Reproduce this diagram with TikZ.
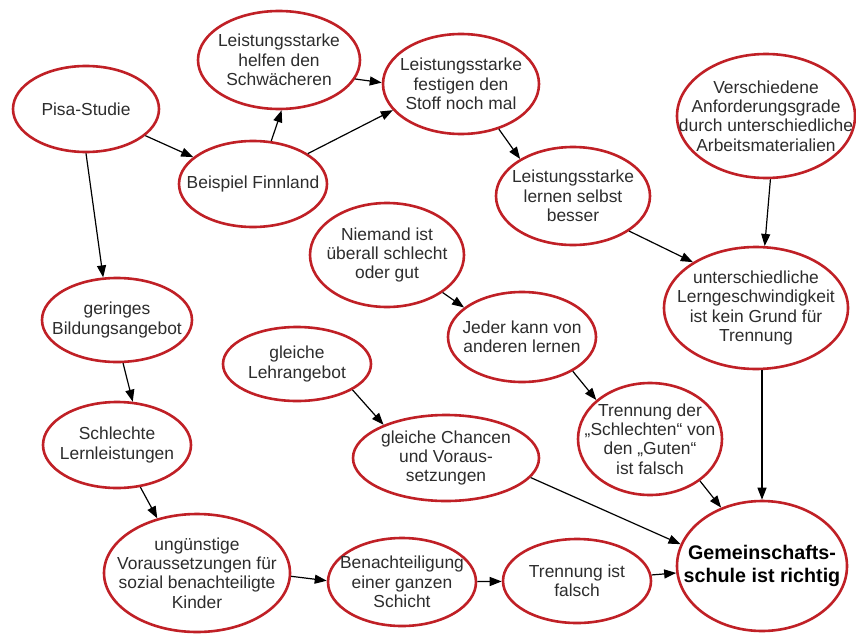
\documentclass[tikz,border=0pt]{standalone}
\usepackage{fontspec}
\setmainfont{Liberation Sans}
\usepackage{xcolor}
\usepackage{tikz}
\usetikzlibrary{shapes.geometric,arrows.meta}

\definecolor{ringred}{RGB}{192,32,38}
\definecolor{inkgray}{RGB}{45,45,45}

\begin{document}
\begin{tikzpicture}[x=1pt, y=-1pt,
  idea/.style  = {ellipse, draw=ringred, line width=2.6pt, inner sep=0pt,
                  fill=white},
  words/.style = {align=center, text=inkgray,
                  font=\fontsize{17.4}{19.4}\selectfont},
  goal/.style  = {align=center, text=black,
                  font=\bfseries\fontsize{19.7}{23.3}\selectfont},
  arr/.style   = {-{Triangle[length=12pt,width=9pt]}, line width=1.2pt}
]
\useasboundingbox[fill=white] (0,0) rectangle (856,634);

% ,  Finnland branch (top) ,
\node[idea, minimum width=146pt, minimum height=86pt, label={[words]center:Pisa-Studie}] (pisa) at (86,109) {};
\node[idea, minimum width=162pt, minimum height=98pt, label={[words]center:Leistungsstarke\\helfen den\\Schwächeren}] (helfen) at (279,60) {};
\node[idea, minimum width=148pt, minimum height=86pt, label={[words]center:Beispiel Finnland}] (finn) at (253,184) {};
\node[idea, minimum width=156pt, minimum height=100pt, label={[words]center:Leistungsstarke\\festigen den\\Stoff noch mal}] (festig) at (461,84) {};
\node[idea, minimum width=154pt, minimum height=98pt, label={[words]center:Leistungsstarke\\lernen selbst\\besser}] (selbst) at (573,196) {};

% ,  Right column ,
\node[idea, minimum width=178pt, minimum height=124pt, label={[words]center:Verschiedene\\Anforderungsgrade\\durch unterschiedliche\\Arbeitsmaterialien}] (anford) at (766,116) {};
\node[idea, minimum width=184pt, minimum height=122pt, label={[words]center:unterschiedliche\\Lerngeschwindigkeit\\ist kein Grund für\\Trennung}] (lerng) at (756,308) {};

% ,  Middle chain ,
\node[idea, minimum width=154pt, minimum height=104pt, label={[words]center:Niemand ist\\überall schlecht\\oder gut}] (niemand) at (387,255) {};
\node[idea, minimum width=148pt, minimum height=90pt, label={[words]center:Jeder kann von\\anderen lernen}] (jeder) at (522,337) {};
\node[idea, minimum width=144pt, minimum height=112pt, label={[words]center:Trennung der\\„Schlechten“ von\\den „Guten“\\ist falsch}] (trenngut) at (650,439) {};
\node[idea, minimum width=148pt, minimum height=74pt, label={[words]center:gleiche\\Lehrangebot}] (lehr) at (297,364) {};
\node[idea, minimum width=186pt, minimum height=86pt, label={[words]center:gleiche Chancen\\und Voraus-\\setzungen}] (chancen) at (446,458) {};

% ,  Left column and bottom row ,
\node[idea, minimum width=150pt, minimum height=84pt, label={[words]center:geringes\\Bildungsangebot}] (gering) at (117,320) {};
\node[idea, minimum width=148pt, minimum height=86pt, label={[words]center:Schlechte\\Lernleistungen}] (schlecht) at (117,445) {};
\node[idea, minimum width=186pt, minimum height=118pt, label={[words]center:ungünstige\\Voraussetzungen für\\sozial benachteiligte\\Kinder}] (unguen) at (197,573) {};
\node[idea, minimum width=148pt, minimum height=88pt, label={[words]center:Benachteiligung\\einer ganzen\\Schicht}] (benach) at (402,582) {};
\node[idea, minimum width=148pt, minimum height=84pt, label={[words]center:Trennung ist\\falsch}] (trennf) at (577,581) {};

% ,  Conclusion ,
\node[idea, minimum width=170pt, minimum height=130pt, label={[goal]center:Gemeinschafts-\\schule ist richtig}] (gemein) at (762,566) {};

% ,  Arrows: Finnland branch ,
\draw[arr] (pisa) -- (finn);
\draw[arr] (finn.67) -- (helfen.-87);
\draw[arr] (finn.29) -- (festig.201);
\draw[arr] (helfen.-14) -- (festig.179);
\draw[arr] (festig.-50) -- (selbst.145);
\draw[arr] (selbst.-32) -- (lerng.144);
\draw[arr] (anford.-86) -- (lerng.82);

% ,  Arrows: middle chain ,
\draw[arr] (niemand.-34) -- (jeder.153);
\draw[arr] (jeder.-34) -- (trenngut.144);
\draw[arr] (lehr.-25) -- (chancen.152);

% ,  Arrows: left column and bottom row ,
\draw[arr] (pisa.-90) -- (gering.108);
\draw[arr] (gering.-82) -- (schlecht.70);
\draw[arr] (schlecht.-61) -- (unguen.126);
\draw[arr] (unguen.-2) -- (benach.179);
\draw[arr] (benach) -- (trennf);

% ,  Arrows: converge to conclusion ,
\draw[arr] (trennf) -- (gemein);
\draw[arr] (chancen.-13) -- (gemein.165);
\draw[arr] (trenngut.-40) -- (gemein.125);
\draw[arr] (gemein.north |- lerng.south) -- (gemein.north);

\end{tikzpicture}
\end{document}
